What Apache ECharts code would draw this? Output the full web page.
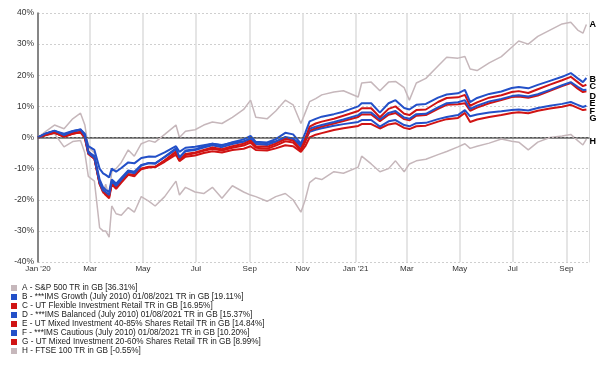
<!DOCTYPE html>
<html><head><meta charset="utf-8">
<script src="https://cdn.jsdelivr.net/npm/echarts@6/dist/echarts.min.js"></script>
<style>html,body{margin:0;padding:0;background:#fff}#c{width:602px;height:371px}</style>
</head><body><div id="c"></div>
<script>
const axisStart = '2020-01-01';
const axisEnd = '2021-09-27';
const sampleDates = ['2020-01-01','2020-01-10','2020-01-20','2020-01-31','2020-02-10','2020-02-19','2020-02-24','2020-02-28','2020-03-06','2020-03-12',
'2020-03-16','2020-03-19','2020-03-23','2020-03-26','2020-03-31','2020-04-06','2020-04-14','2020-04-21','2020-04-29','2020-05-08',
'2020-05-15','2020-05-26','2020-06-08','2020-06-12','2020-06-19','2020-06-30','2020-07-10','2020-07-20','2020-07-31','2020-08-12',
'2020-08-25','2020-09-02','2020-09-08','2020-09-21','2020-10-01','2020-10-12','2020-10-21','2020-10-30','2020-11-04','2020-11-09',
'2020-11-16','2020-11-23','2020-12-07','2020-12-18','2021-01-04','2021-01-08','2021-01-19','2021-01-29','2021-02-08','2021-02-16',
'2021-02-26','2021-03-04','2021-03-12','2021-03-23','2021-04-06','2021-04-16','2021-04-29','2021-05-07','2021-05-13','2021-05-21',
'2021-06-04','2021-06-18','2021-06-30','2021-07-08','2021-07-19','2021-07-30','2021-08-13','2021-08-27','2021-09-06','2021-09-14',
'2021-09-20','2021-09-24'];

const seriesLetters = ['A','B','C','D','E','F','G','H'];
const seriesNames = [
 'A - S&P 500 TR in GB [36.31%]',
 'B - ***IMS Growth (July 2010) 01/08/2021 TR in GB [19.11%]',
 'C - UT Flexible Investment Retail TR in GB [16.95%]',
 'D - ***IMS Balanced (July 2010) 01/08/2021 TR in GB [15.37%]',
 'E - UT Mixed Investment 40-85% Shares Retail TR in GB [14.84%]',
 'F - ***IMS Cautious (July 2010) 01/08/2021 TR in GB [10.20%]',
 'G - UT Mixed Investment 20-60% Shares Retail TR in GB [8.99%]',
 'H - FTSE 100 TR in GB [-0.55%]'
];

const valuesA = [0,2,4,2.8,6,7.8,4,-3,-5,-15,-18,-15,-19,-11,-10,-8,-4,-6,-2,-1,-1.5,1,4,0,2,2.5,4,5,4.5,6.5,9,12,6.5,6,8.5,12,10.5,4.5,8,11.5,12.5,13.7,14.6,15,13,17.5,17.8,15,17.8,18,16,12,17.5,19,23,25.8,25.5,26,22,21.5,24,26,29,31,30,32.5,34.5,36.5,37,34.5,33.5,36.31];
const valuesB = [0,1.3,2.2,0.8,2.0,2.6,0.6,-5,-6.5,-14.5,-17,-17.5,-18.5,-14,-15.5,-13.5,-11,-11.5,-9,-8.2,-8.4,-6.2,-3.5,-6.5,-4.2,-3.8,-2.8,-2,-2.6,-1.5,-0.6,0.5,-1.4,-1.6,-0.5,1.5,1,-2,1.5,5.2,6,6.7,7.5,8.3,10,11,11,8,11,12,9.5,9,10.5,10.8,12.8,13.8,14.2,15.3,11.4,12.7,14,14.8,15.9,16.2,15.8,16.9,18.2,19.5,20.7,19,17.8,19.11];
const valuesC = [0,0.9,1.6,0.3,1.3,1.8,0,-5.2,-6.8,-15,-17.5,-18.5,-19.5,-15,-16.5,-14.5,-12,-12.5,-10,-9.5,-9.5,-7.3,-4.5,-7.2,-5.3,-4.8,-4,-3.2,-3.8,-2.8,-2,-1,-2.8,-3,-2,-0.5,-1,-3.8,-0.5,3.5,4.5,5.1,6,7,8.5,9.4,9.4,6.5,9.2,10,7.6,7.2,8.8,9,11.4,12.7,12.9,13.7,10.2,11.3,12.8,13.6,14.6,14.9,14.3,15.5,17,18.4,19.5,17.8,16.5,16.95];
const valuesD = [0,1.2,2.0,0.8,1.8,2.4,0.5,-4.6,-6,-13.5,-16,-16.8,-17.5,-13.5,-14.8,-13,-10.6,-11,-8.8,-8.2,-8.3,-6.3,-3.8,-6.3,-4.4,-4,-3.2,-2.5,-3.1,-2.1,-1.4,-0.4,-2.1,-2.4,-1.4,0.2,-0.3,-3,-0.3,2.8,3.5,4,5,5.8,7.2,8,8,5.8,7.9,8.5,6.4,6,7.5,7.6,9.7,11,11.3,12,9.2,10.2,11.6,12.4,13.3,13.6,13.2,13.9,15.3,16.8,17.8,16.3,15.3,15.37];
const valuesE = [0,0.9,1.6,0.2,1.2,1.7,-0.2,-5.3,-6.8,-14.8,-17.2,-18.2,-19,-14.8,-16.2,-14.2,-11.8,-12.2,-10,-9.4,-9.4,-7.4,-4.8,-7.4,-5.6,-5.1,-4.3,-3.6,-4.2,-3.3,-2.6,-1.6,-3.3,-3.6,-2.6,-1.2,-1.6,-4.3,-1.4,2.2,3,3.5,4.5,5.3,6.6,7.4,7.4,5.2,7.3,7.9,5.9,5.5,7,7.2,9.2,10.5,10.7,11,8.6,9.6,11,12,13,13.2,12.8,13.5,15,16.5,17.5,15.7,14.6,14.84];
const valuesF = [0,1.2,2.1,1.2,2.1,2.6,1.2,-2.8,-4,-10,-11.5,-12,-12.8,-10,-11,-9.8,-8,-8.3,-6.6,-6.1,-6.2,-4.8,-2.8,-4.6,-3.3,-3,-2.5,-2,-2.4,-1.7,-1.2,-0.5,-1.7,-1.8,-1.2,-0.2,-0.5,-2.2,-0.6,1.8,2.5,3,3.8,4.3,5,5.6,5.6,3.5,5.2,5.6,4,3.6,4.6,4.7,5.9,6.6,7.2,8.8,6.8,7.4,8,8.4,8.8,9,8.7,9.5,10.2,10.8,11.4,10.5,9.8,10.20];
const valuesG = [0,0.8,1.5,0.5,1.3,1.6,0.2,-4.5,-6.5,-14.5,-17,-17.8,-18.5,-14.8,-15.5,-13.8,-11.8,-12,-10.2,-9.6,-9.5,-7.8,-5.5,-7.6,-6.2,-5.8,-5,-4.4,-4.8,-4,-3.6,-2.8,-4,-4.2,-3.5,-2.5,-2.8,-4.6,-2.8,0,0.9,1.4,2.4,3,3.7,4.3,4.3,2.9,4.2,4.6,3.1,2.7,3.6,3.8,5.1,5.9,6.3,7.9,5,5.8,6.6,7.2,7.9,8.1,7.8,8.6,9.3,9.9,10.5,9.5,8.8,8.99];
const valuesH = [0,0.6,1.2,-3,-1.3,-1,-5,-12.5,-14,-29,-30,-30,-32,-22,-24.5,-25,-22.5,-24,-19,-20.5,-22,-19,-14,-18.5,-16,-17.5,-18,-16,-19.5,-15.5,-17.5,-18.5,-19,-20.5,-19,-18,-20,-24,-20,-14.5,-13,-13.5,-11,-11.5,-9.5,-6,-8.5,-11,-10,-7.5,-11,-8.5,-7.5,-7,-5.5,-4.5,-3,-2,-3.5,-2.8,-1.8,-0.5,-1.2,-1.5,-4,-1.5,0,0.5,1,-1,-2.4,-0.55];

const yMin = -40, yMax = 40, yStep = 10;
const monthNames = ['Jan','Feb','Mar','Apr','May','Jun','Jul','Aug','Sep','Oct','Nov','Dec'];

const days = [];
(function(){
  let d = new Date(axisStart + 'T00:00:00Z');
  const end = new Date(axisEnd + 'T00:00:00Z');
  while (d <= end) { days.push(d.toISOString().slice(0,10)); d = new Date(d.getTime() + 86400000); }
})();
const dayIndex = {}; days.forEach((d,i)=>dayIndex[d]=i);

function fullSeries(vals){
  const arr = new Array(days.length).fill(null);
  sampleDates.forEach((d,i)=>{ arr[dayIndex[d]] = vals[i]; });
  return arr;
}
function isTickDay(idx, val){
  return val.slice(8) === '01' && (parseInt(val.slice(5,7),10) % 2 === 1);
}

const BLUE = '#2350c8', RED = '#d01414', GRAY = '#c6b7bb';
const all = {A:valuesA,B:valuesB,C:valuesC,D:valuesD,E:valuesE,F:valuesF,G:valuesG,H:valuesH};
const colors = {A:GRAY,B:BLUE,C:RED,D:BLUE,E:RED,F:BLUE,G:RED,H:GRAY};
const labelDy = {A:0,B:1,C:2,D:7,E:12,F:6,G:8.5,H:2};
const drawOrder = ['A','H','G','F','E','D','C','B'];

const series = drawOrder.map(L=>{
  const i = seriesLetters.indexOf(L);
  const s = {
    name: seriesNames[i], type:'line', data: fullSeries(all[L]),
    connectNulls:true, showSymbol:false, symbol:'none',
    lineStyle:{color:colors[L], width:(L==='A'||L==='H')?1.5:2},
    itemStyle:{color:colors[L]},
    endLabel:{show:true, formatter:L, color:'#000', fontWeight:'bold', fontSize:9,
      fontFamily:'Liberation Sans', distance:3, offset:[0,labelDy[L]]},
    silent:true, animation:false
  };
  if (L==='H') {
    s.markLine = {silent:true, symbol:['none','none'], label:{show:false},
      lineStyle:{color:'#555', type:[2,2], width:1}, data:[{yAxis:0}], animation:false};
  }
  return s;
});

const chart = echarts.init(document.getElementById('c'), null, {renderer:'canvas'});
chart.setOption({
  animation:false,
  backgroundColor:'#fff',
  grid:{left:38, right:13, top:13, bottom:109, containLabel:false},
  xAxis:{type:'category', data:days, boundaryGap:false,
    axisLine:{show:true, lineStyle:{color:'#666', width:1.5}},
    axisTick:{show:false},
    axisLabel:{interval:isTickDay, color:'#333', fontSize:8, fontFamily:'Liberation Sans', margin:3,
      formatter:function(v){ const m = parseInt(v.slice(5,7),10)-1; return m===0 ? "Jan '"+v.slice(2,4) : monthNames[m]; }},
    splitLine:{show:true, interval:isTickDay, lineStyle:{color:'#dcdcdc', width:1.5}}
  },
  yAxis:[{type:'value', min:yMin, max:yMax, interval:yStep,
    axisLine:{show:true, lineStyle:{color:'#666', width:1.5}},
    axisTick:{show:false},
    axisLabel:{formatter:'{value}%', color:'#333', fontSize:8.5, fontFamily:'Liberation Sans', margin:4},
    splitLine:{show:true, lineStyle:{color:'#cfcfcf', type:[2,2], width:1}}
  },{type:'value', min:yMin, max:yMax, interval:yStep, position:'right',
    axisLine:{show:true, lineStyle:{color:'#dcdcdc', width:1}}, axisTick:{show:false},
    axisLabel:{show:false}, splitLine:{show:false}}],
  legend:{orient:'vertical', left:6, top:279, icon:'rect', itemWidth:6, itemHeight:6, itemGap:1,
    data:seriesNames, selectedMode:false,
    textStyle:{fontSize:8.2, lineHeight:8, color:'#222', fontFamily:'Liberation Sans'}},
  series:series
});
</script></body></html>
